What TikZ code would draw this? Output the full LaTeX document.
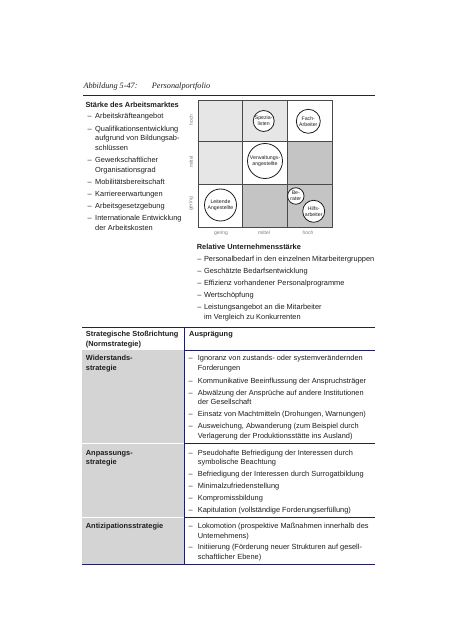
\documentclass[tikz,border=0pt]{standalone}
\usepackage{fontspec}
\setsansfont{Liberation Sans}
\newfontfamily\titlefont{Liberation Serif}
\definecolor{navy}{HTML}{1F1F66}
\definecolor{lightg}{HTML}{E6E6E6}
\definecolor{darkg}{HTML}{C4C4C4}
\definecolor{tabg}{HTML}{D4D4D4}
\definecolor{txtc}{HTML}{1E1E1E}
\definecolor{gridc}{HTML}{4A4A4A}
\newcommand\tl[4]{\node[txt] (#1) at (#2,{#3+2.6}) {#4};}
\newcommand\bl[4]{\node[txtb] (#1) at (#2,{#3+2.6}) {#4};}
\newcommand\dl[5]{\node[txt] (#1d) at (#2,{#4+2.6}) {\textendash}; \node[txt] (#1) at (#3,{#4+2.6}) {#5};}
\begin{document}
\begin{tikzpicture}[x=1bp,y=-1bp,
  txt/.style={font=\sffamily\fontsize{7.4bp}{9bp}\selectfont, inner sep=0pt, anchor=base west, text=txtc},
  txtb/.style={txt, font=\sffamily\bfseries\fontsize{7.4bp}{9bp}\selectfont},
  ttl/.style={font=\titlefont\itshape\fontsize{8.2bp}{10bp}\selectfont, inner sep=0pt, anchor=base west, text=txtc},
  pc/.style={circle, draw=txtc, fill=white, line width=0.8bp, inner sep=0pt},
  clab/.style={font=\sffamily\fontsize{5.2bp}{5.9bp}\selectfont, align=center, inner sep=0pt, text=txtc},
  axl/.style={font=\sffamily\fontsize{5bp}{6bp}\selectfont, inner sep=0pt, text=gray},
  rule/.style={draw=navy, line width=0.9bp}]
\useasboundingbox (0,0) rectangle (453,640);
\fill[white] (0,0) rectangle (453,640);

% title
\node[ttl] (t1) at (83.3,89) {Abbildung 5-47:};
\node[ttl] (t2) at (151.7,89) {Personalportfolio};
\draw[rule] (83,95) -- (375,95);

% left list
\bl{h1}{85.3}{105}{Stärke des Arbeitsmarktes}
\dl{a1}{87.3}{95}{116}{Arbeitskräfteangebot}
\dl{a2}{87.3}{95}{128.5}{Qualifikationsentwicklung}
\tl{a2b}{95}{138.2}{aufgrund von Bildungsab-}
\tl{a2c}{95}{147.8}{schlüssen}
\dl{a3}{87.3}{95}{160}{Gewerkschaftlicher}
\tl{a3b}{95}{169.6}{Organisationsgrad}
\dl{a4}{87.3}{95}{181.5}{Mobilitätsbereitschaft}
\dl{a5}{87.3}{95}{193.5}{Karriereerwartungen}
\dl{a6}{87.3}{95}{205.5}{Arbeitsgesetzgebung}
\dl{a7}{87.3}{95}{218}{Internationale Entwicklung}
\tl{a7b}{95}{227.6}{der Arbeitskosten}

% grid
\fill[lightg] (198,100) rectangle (287,141);
\fill[lightg] (198,141) rectangle (242,184);
\fill[darkg] (287,141) rectangle (332,184);
\fill[darkg] (242,184) rectangle (332,227);
\draw[gridc, line width=0.7bp] (198,100) rectangle (332,227);
\draw[gridc, line width=0.7bp] (242,100) -- (242,227) (287,100) -- (287,227)
  (198,141) -- (332,141) (198,184) -- (332,184);

\node[axl, rotate=90] (yh) at (191,120) {hoch};
\node[axl, rotate=90] (ym) at (191,162) {mittel};
\node[axl, rotate=90] (yg) at (191,204) {gering};
\node[axl] (xg) at (221,233) {gering};
\node[axl] (xm) at (264,233) {mittel};
\node[axl] (xh) at (308,233) {hoch};

\node[pc, minimum size=21bp] (c1) at (263.7,121) {};
\node[clab] (c1t) at (c1) {Spezia-\\listen};
\node[pc, minimum size=24bp] (c2) at (308.3,121.3) {};
\node[clab] (c2t) at (c2) {Fach-\\Arbeiter};
\node[pc, minimum size=35bp] (c3) at (265,161) {};
\node[clab] (c3t) at (c3) {Verwaltungs-\\angestellte};
\node[pc, minimum size=32bp] (c4) at (220.5,205) {};
\node[clab] (c4t) at (c4) {Leitende\\Angestellte};
\node[pc, minimum size=16.5bp] (c5) at (295.8,196) {};
\node[clab] (c5t) at (c5) {Be-\\rater};
\node[pc, minimum size=22bp] (c6) at (313.7,211.3) {};
\node[clab] (c6t) at (c6) {Hilfs-\\arbeiter};

% right list
\bl{h2}{196.7}{246.7}{Relative Unternehmensstärke}
\dl{b1}{197.2}{203.8}{259}{Personalbedarf in den einzelnen Mitarbeitergruppen}
\dl{b2}{197.2}{203.8}{271.2}{Geschätzte Bedarfsentwicklung}
\dl{b3}{197.2}{203.8}{283.3}{Effizienz vorhandener Personalprogramme}
\dl{b4}{197.2}{203.8}{295.3}{Wertschöpfung}
\dl{b5}{197.2}{203.8}{307}{Leistungsangebot an die Mitarbeiter}
\tl{b5b}{203.8}{316.6}{im Vergleich zu Konkurrenten}

% table
\fill[tabg] (82,350) rectangle (183.5,442.5);
\fill[tabg] (82,444) rectangle (183.5,516.5);
\fill[tabg] (82,518) rectangle (183.5,564);
\draw[rule] (82,327) -- (375,327);
\draw[rule] (184,327) -- (184,564);
\draw[rule] (184,350) -- (375,350);
\draw[rule] (184,443.3) -- (375,443.3);
\draw[rule] (184,517.3) -- (375,517.3);
\draw[rule] (82,564) -- (375,564);

\bl{s0}{85.7}{334}{Strategische Stoßrichtung}
\bl{s0b}{85.7}{343.5}{(Normstrategie)}
\bl{s0c}{189}{334}{Ausprägung}

\bl{s1}{85.7}{358.3}{Widerstands-}
\bl{s1b}{85.7}{367.9}{strategie}
\dl{w1}{188.3}{197.7}{358.3}{Ignoranz von zustands- oder systemverändernden}
\tl{w1b}{197.7}{367.9}{Forderungen}
\dl{w2}{188.3}{197.7}{380.7}{Kommunikative Beeinflussung der Anspruchsträger}
\dl{w3}{188.3}{197.7}{392.7}{Abwälzung der Ansprüche auf andere Institutionen}
\tl{w3b}{197.7}{402.2}{der Gesellschaft}
\dl{w4}{188.3}{197.7}{414}{Einsatz von Machtmitteln (Drohungen, Warnungen)}
\dl{w5}{188.3}{197.7}{426.2}{Ausweichung, Abwanderung (zum Beispiel durch}
\tl{w5b}{197.7}{435.8}{Verlagerung der Produktionsstätte ins Ausland)}

\bl{s2}{85.7}{452.7}{Anpassungs-}
\bl{s2b}{85.7}{462.2}{strategie}
\dl{p1}{188.3}{197.7}{452.7}{Pseudohafte Befriedigung der Interessen durch}
\tl{p1b}{197.7}{462.2}{symbolische Beachtung}
\dl{p2}{188.3}{197.7}{473.8}{Befriedigung der Interessen durch Surrogatbildung}
\dl{p3}{188.3}{197.7}{485.6}{Minimalzufriedenstellung}
\dl{p4}{188.3}{197.7}{497.6}{Kompromissbildung}
\dl{p5}{188.3}{197.7}{509.8}{Kapitulation (vollständige Forderungserfüllung)}

\bl{s3}{85.7}{526}{Antizipationsstrategie}
\dl{q1}{188.3}{197.7}{526}{Lokomotion (prospektive Maßnahmen innerhalb des}
\tl{q1b}{197.7}{535.5}{Unternehmens)}
\dl{q2}{188.3}{197.7}{547.3}{Initiierung (Förderung neuer Strukturen auf gesell-}
\tl{q2b}{197.7}{556.8}{schaftlicher Ebene)}
\end{tikzpicture}
\end{document}
